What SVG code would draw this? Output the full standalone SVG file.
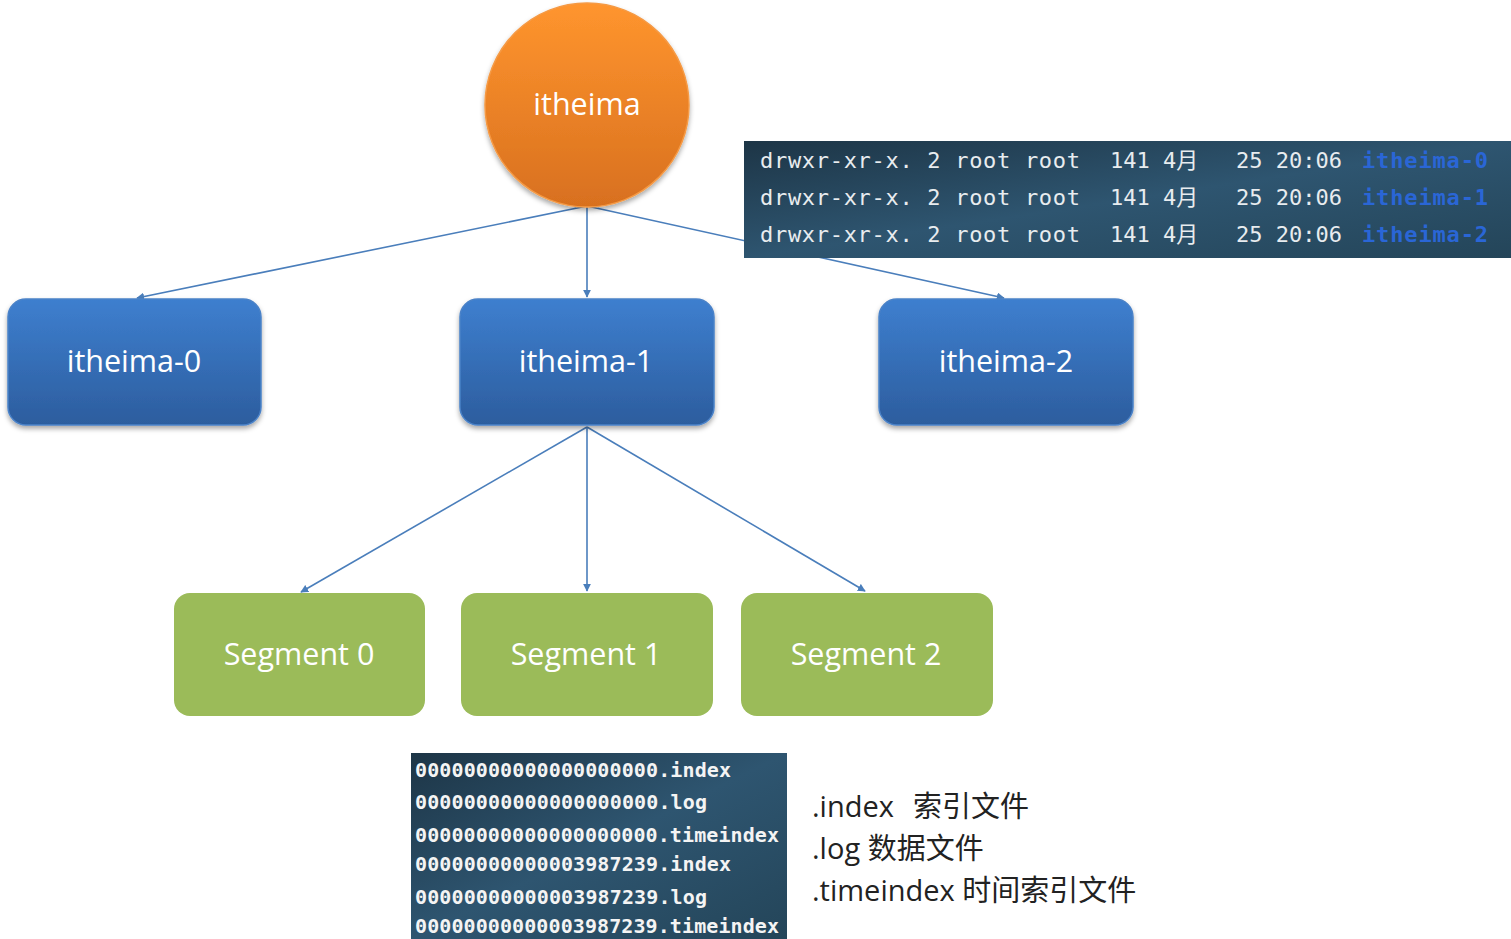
<svg xmlns="http://www.w3.org/2000/svg" width="1511" height="939" viewBox="0 0 1511 939">
<defs>
<linearGradient id="gOrange" x1="0" y1="0" x2="0" y2="1">
<stop offset="0" stop-color="#ff952e"/>
<stop offset="1" stop-color="#d8701f"/>
</linearGradient>
<linearGradient id="gBlue" x1="0" y1="0" x2="0" y2="1">
<stop offset="0" stop-color="#3e7fcf"/>
<stop offset="1" stop-color="#2c5d9e"/>
</linearGradient>
<linearGradient id="gTerm" x1="0" y1="0" x2="1" y2="1">
<stop offset="0" stop-color="#1d3546"/>
<stop offset="0.5" stop-color="#2e5570"/>
<stop offset="1" stop-color="#244559"/>
</linearGradient>
<filter id="shadow" x="-10%" y="-10%" width="120%" height="130%">
<feDropShadow dx="0" dy="3" stdDeviation="2.5" flood-color="#000" flood-opacity="0.35"/>
</filter>
<marker id="arr" viewBox="0 0 10 10" refX="9" refY="5" markerWidth="8" markerHeight="8" markerUnits="userSpaceOnUse" orient="auto">
<path d="M0,0 L10,5 L0,10 z" fill="#4a7ebb"/>
</marker>
</defs>
<style>
.edge{stroke:#4a7ebb;stroke-width:1.6;fill:none;marker-end:url(#arr)}
.lbl{font-family:"Open Sans","Noto Sans",sans-serif;font-size:30.5px;fill:#fff;text-anchor:middle}
.blue{fill:url(#gBlue);stroke:#4a82c8;stroke-width:1.5;filter:url(#shadow)}
.green{fill:#9bbb59}
.term{font-family:"DejaVu Sans Mono","Noto Sans CJK SC",monospace;font-size:22px;fill:#e8ecef}
.termb{font-family:"DejaVu Sans Mono",monospace;font-size:22px;fill:#2a66d6;font-weight:bold}
.file{font-family:"DejaVu Sans Mono",monospace;font-size:20px;fill:#f4f4f4;font-weight:bold}
.leg{font-family:"Open Sans","Noto Sans CJK SC",sans-serif;font-size:29px;fill:#222}
</style>

<g id="connectors">
<line class="edge" x1="587" y1="206" x2="137" y2="298"/>
<line class="edge" x1="587" y1="206" x2="587" y2="297"/>
<line class="edge" x1="587" y1="206" x2="1004" y2="298"/>
<line class="edge" x1="587" y1="427" x2="301" y2="592"/>
<line class="edge" x1="587" y1="427" x2="587" y2="591"/>
<line class="edge" x1="587" y1="427" x2="865" y2="591"/>
</g>

<g id="root">
<circle cx="587" cy="105" r="102" fill="url(#gOrange)" stroke="#f59a45" stroke-width="1.5" filter="url(#shadow)"/>
<text class="lbl" x="587" y="115">itheima</text>
</g>

<g id="itheima-0">
<rect class="blue" x="8" y="299" width="253" height="126" rx="18"/>
<text class="lbl" x="134" y="372">itheima-0</text>
</g>
<g id="itheima-1">
<rect class="blue" x="460" y="299" width="254" height="126" rx="18"/>
<text class="lbl" x="586" y="372">itheima-1</text>
</g>
<g id="itheima-2">
<rect class="blue" x="879" y="299" width="254" height="126" rx="18"/>
<text class="lbl" x="1006" y="372">itheima-2</text>
</g>

<g id="segment-0">
<rect class="green" x="174" y="593" width="251" height="123" rx="16"/>
<text class="lbl" x="299" y="665">Segment 0</text>
</g>
<g id="segment-1">
<rect class="green" x="461" y="593" width="252" height="123" rx="16"/>
<text class="lbl" x="586" y="665">Segment 1</text>
</g>
<g id="segment-2">
<rect class="green" x="741" y="593" width="252" height="123" rx="16"/>
<text class="lbl" x="866" y="665">Segment 2</text>
</g>

<g id="terminal">
<rect x="744" y="141" width="767" height="117" fill="url(#gTerm)"/>
<g class="term">
<text x="760" y="168" textLength="320">drwxr-xr-x. 2 root root</text>
<text x="1110" y="168">141 4月</text>
<text x="1236" y="168">25 20:06</text>
<text x="760" y="205" textLength="320">drwxr-xr-x. 2 root root</text>
<text x="1110" y="205">141 4月</text>
<text x="1236" y="205">25 20:06</text>
<text x="760" y="242" textLength="320">drwxr-xr-x. 2 root root</text>
<text x="1110" y="242">141 4月</text>
<text x="1236" y="242">25 20:06</text>
</g>
<text class="termb" x="1362" y="168" textLength="126">itheima-0</text>
<text class="termb" x="1362" y="205" textLength="126">itheima-1</text>
<text class="termb" x="1362" y="242" textLength="126">itheima-2</text>
</g>

<g id="files">
<rect x="411" y="753" width="376" height="186" fill="url(#gTerm)"/>
<text class="file" x="415" y="777" textLength="316">00000000000000000000.index</text>
<text class="file" x="415" y="809" textLength="292">00000000000000000000.log</text>
<text class="file" x="415" y="842" textLength="364">00000000000000000000.timeindex</text>
<text class="file" x="415" y="871" textLength="316">00000000000003987239.index</text>
<text class="file" x="415" y="904" textLength="292">00000000000003987239.log</text>
<text class="file" x="415" y="933" textLength="364">00000000000003987239.timeindex</text>
</g>

<g id="legend">
<text class="leg" x="812" y="817">.index<tspan x="913">索引文件</tspan></text>
<text class="leg" x="812" y="859">.log 数据文件</text>
<text class="leg" x="812" y="901">.timeindex 时间索引文件</text>
</g>
</svg>
